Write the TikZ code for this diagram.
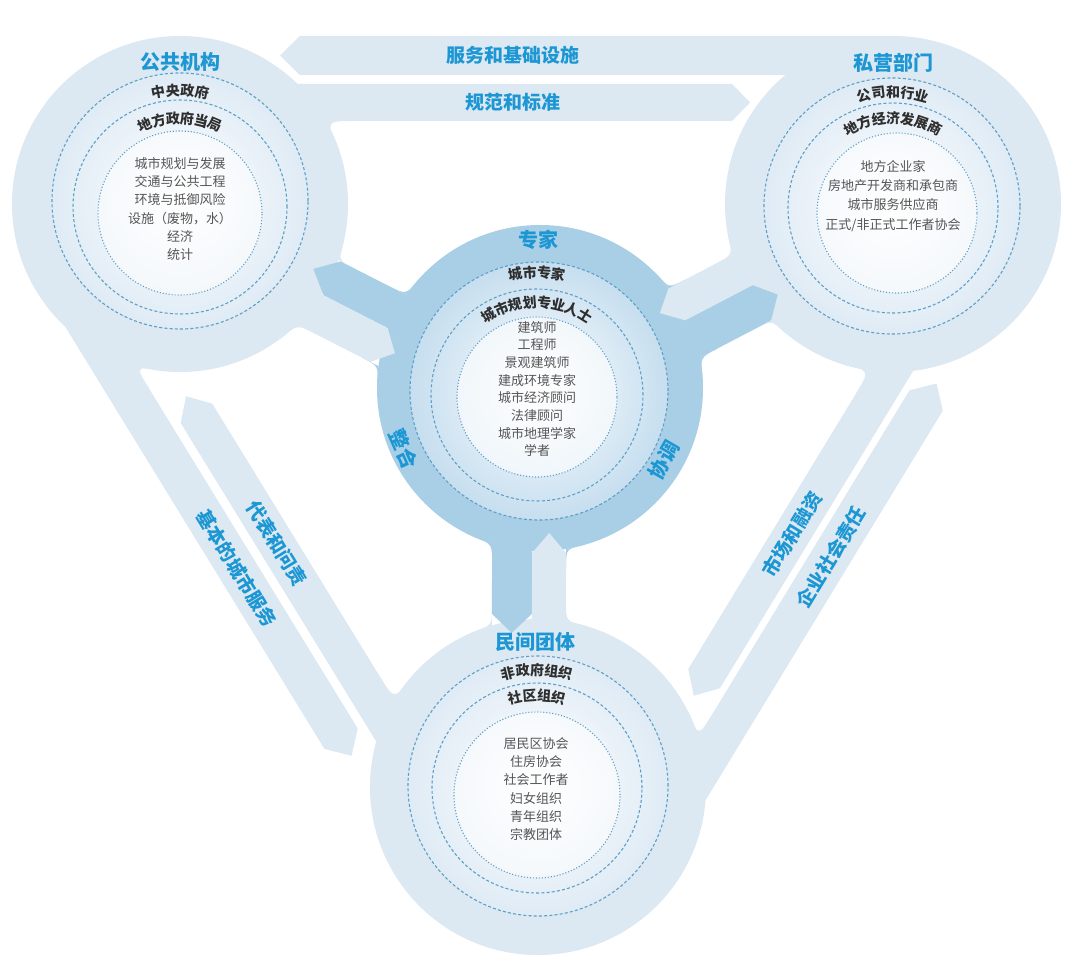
\documentclass[tikz,border=0pt]{standalone}
\usepackage{fontspec}
\setmainfont{Noto Sans CJK SC}
\definecolor{bandlight}{HTML}{DCE8F2}
\definecolor{ringmid}{HTML}{A9CFE6}
\definecolor{ringlight}{HTML}{DFEBF5}
\definecolor{ringpale}{HTML}{C6DEEF}
\definecolor{dashblue}{HTML}{5E9FC8}
\definecolor{titleblue}{HTML}{1C97D4}
\definecolor{darktext}{HTML}{2E2E2E}
\definecolor{listtext}{HTML}{555555}

\tikzset{
  bandarrow/.style={fill=bandlight},
  midarrow/.style={fill=ringmid},
  dashring/.style={draw=dashblue, line width=1.1pt, dash pattern=on 3pt off 2.2pt},
  dotring/.style={draw=dashblue, line width=1.1pt, dash pattern=on 1.1pt off 1.9pt},
  title/.style={text=titleblue, font=\bfseries\fontsize{20}{24}\selectfont},
  bandtext/.style={text=titleblue, font=\bfseries\fontsize{19}{23}\selectfont, transform shape},
  archlabel/.style={text=darktext, font=\bfseries\fontsize{14}{16}\selectfont, inner sep=0pt},
  itemlist/.style={text=listtext, align=center, font=\fontsize{13}{18.3}\selectfont},
}

% #1 centre, #2 radius, #3 angle step, #4 number of characters, #5 characters, #6 name prefix
\newcommand{\archtext}[6]{%
  \foreach \ch [count=\i] in {#5}{%
    \pgfmathsetmacro\ang{90+((#4+1)/2-\i)*#3}
    \node[archlabel, rotate=\ang-90] (#6\i) at ([shift={(\ang:#2)}]#1) {\ch};
  }}

% rounded join of a straight edge (y=#4) and a disc of radius #3 at the origin
% #1 frame, #2 colour, #5 size, #6 side (1: gap towards axis, -1: gap away)
\newcommand{\fillet}[6]{%
  \begin{scope}[#1]
    \pgfmathsetmacro\fx{sqrt(#3-#4)*sqrt(#3+#4)}
    \pgfmathsetmacro\fa{atan2(#4,\fx)-#6*#5/#3*180/pi}
    \fill[#2] (\fx+#5,#4) -- (\fx,#4) -- (\fa:#3) .. controls (\fx,#4) .. (\fx+#5,#4);
  \end{scope}}

\begin{document}
\begin{tikzpicture}[x=1pt, y=1pt]
  \useasboundingbox (0,0) rectangle (1080,-976);
  \fill[white] (0,0) rectangle (1080,-976);

  % centres of the four groups
  \coordinate (tl) at (180,-204);
  \coordinate (tr) at (893,-204);
  \coordinate (bt) at (538,-787);
  \coordinate (ex) at (540,-388);

  % light frame: three discs and the arrows between them
  \fill[bandlight] (tl) circle (168) (tr) circle (168) (bt) circle (168);

  \begin{scope}[shift={(tl)}]
    \fill[bandarrow] (713,168) -- (120,168) -- (100,148.5) -- (120,129) -- (713,129) -- cycle;
    \fill[bandarrow] (0,120) -- (552,120) -- (570,101.5) -- (552,83) -- (0,83) -- cycle;
    \node[bandtext] (infra) at (333,148.5) {服务和基础设施};
    \node[bandtext] (norms) at (333,101.5) {规范和标准};
  \end{scope}

  \begin{scope}[shift={(tl)}, rotate=-58.45]
    \fill[bandarrow] (0,-162) -- (540,-162) -- (560,-142.5) -- (540,-123) -- (0,-123) -- cycle;
    \fill[bandarrow] (684.1,-114) -- (187,-114) -- (167,-95.5) -- (187,-77) -- (684.1,-77) -- cycle;
    \node[bandtext] (basic) at (340,-142.5) {基本的城市服务};
    \node[bandtext] (account) at (340,-95.5) {代表和问责};
  \end{scope}

  \begin{scope}[shift={(bt)}, rotate=58.66]
    \fill[bandarrow] (0,-150) -- (532,-150) -- (552,-130.5) -- (532,-111) -- (0,-111) -- cycle;
    \fill[bandarrow] (682.6,-104) -- (179,-104) -- (159,-85.5) -- (179,-67) -- (682.6,-67) -- cycle;
    \node[bandtext] (csr) at (349,-130.5) {企业社会责任};
    \node[bandtext] (market) at (348,-85.5) {市场和融资};
  \end{scope}

  % rounded joins of the frame
  \fillet{shift={(tl)}}{bandlight}{168}{83}{28}{1}
  \fillet{shift={(tl)}, rotate=-58.45, yscale=-1}{bandlight}{168}{123}{28}{1}
  \fillet{shift={(bt)}, rotate=121.55}{bandlight}{168}{77}{28}{1}
  \fillet{shift={(bt)}, rotate=58.66, yscale=-1}{bandlight}{168}{111}{28}{1}
  \fillet{shift={(tr)}, rotate=238.66}{bandlight}{168}{67}{28}{1}

  % expert ring and its three spokes
  \fill[ringmid] (ex) circle (163);

  \begin{scope}[shift={(ex)}, rotate=152.93]
    \fill[midarrow] (100,16) -- (235,16) -- (256,-3) -- (235,-22) -- (100,-22) -- cycle;
    \fill[bandarrow] (300,54) -- (163,54) -- (145,35) -- (163,16) -- (300,16) -- cycle;
  \end{scope}
  \begin{scope}[shift={(ex)}, rotate=27.53]
    \fill[midarrow] (100,-7) -- (236,-7) -- (254,-27) -- (236,-47) -- (100,-47) -- cycle;
    \fill[bandarrow] (300,29) -- (160,29) -- (141,11) -- (160,-7) -- (300,-7) -- cycle;
  \end{scope}
  \begin{scope}[shift={(ex)}, rotate=-90.3]
    \fill[midarrow] (100,-7) -- (226,-7) -- (245,-27) -- (226,-47) -- (100,-47) -- cycle;
    \fill[bandarrow] (300,27) -- (165,27) -- (145,10) -- (165,-7) -- (300,-7) -- cycle;
  \end{scope}

  % rounded joins of the spokes
  \fillet{shift={(ex)}, rotate=152.93, yscale=-1}{ringmid}{163}{22}{20}{-1}
  \fillet{shift={(ex)}, rotate=27.53, yscale=-1}{ringmid}{163}{47}{20}{-1}
  \fillet{shift={(ex)}, rotate=-90.3, yscale=-1}{ringmid}{163}{47}{20}{-1}
  \fillet{shift={(ex)}, rotate=152.93}{ringmid}{163}{54}{18}{-1}
  \fillet{shift={(ex)}, rotate=27.53}{ringmid}{163}{29}{18}{-1}
  \fillet{shift={(ex)}, rotate=-90.3}{ringmid}{163}{27}{18}{-1}
  \fillet{shift={(tr)}, rotate=207.53, yscale=-1}{bandlight}{168}{29}{20}{-1}
  \fillet{shift={(tl)}, rotate=332.93, yscale=-1}{bandlight}{168}{54}{20}{-1}
  \fillet{shift={(bt)}, rotate=89.7, yscale=-1}{bandlight}{168}{27}{20}{-1}
  \fillet{shift={(tl)}, rotate=332.93}{bandlight}{168}{22}{18}{-1}
  \fillet{shift={(tr)}, rotate=207.53}{bandlight}{168}{47}{18}{-1}
  \fillet{shift={(bt)}, rotate=89.7}{bandlight}{168}{47}{18}{-1}

  % dashed rings
  \shade[inner color=white, outer color=ringlight] (180,-201) circle (128);
  \draw[dashring] (180,-201) circle (128);
  \draw[dashring] (180,-207) circle (107);
  \fill[white, opacity=.55] (180,-213) circle (82);
  \draw[dotring] (180,-213) circle (82);

  \shade[inner color=white, outer color=ringlight] (892,-206) circle (128);
  \draw[dashring] (892,-206) circle (128);
  \draw[dashring] (893,-208) circle (105);
  \fill[white, opacity=.55] (897,-213) circle (80);
  \draw[dotring] (897,-213) circle (80);

  \shade[inner color=white, outer color=ringlight] (538,-786) circle (130);
  \draw[dashring] (538,-786) circle (130);
  \draw[dashring] (537,-788) circle (105);
  \fill[white, opacity=.55] (537,-795) circle (83);
  \draw[dotring] (537,-795) circle (83);

  \shade[inner color=white, outer color=ringpale] (539,-391) circle (129);
  \draw[dashring] (539,-391) circle (129);
  \draw[dashring] (537,-395) circle (106);
  \fill[white, opacity=.6] (537,-397) circle (80);
  \draw[dotring] (537,-397) circle (80);

  % titles
  \node[title] (pubt) at (180,-62) {公共机构};
  \node[title] (privt) at (893,-63) {私营部门};
  \node[title] (civt) at (535,-642) {民间团体};
  \node[title] (expt) at (538,-240) {专家};
  \node[title, rotate=-66] (integ) at (404,-449) {整合};
  \node[title, rotate=60] (coord) at (664,-460) {协调};

  % arched sub-titles
  \coordinate (tlr) at (180,-207);
  \coordinate (trr) at (893,-208);
  \coordinate (btr) at (537,-790);
  \coordinate (exr) at (537,-393);
  \archtext{tlr}{117}{7.2}{4}{中,央,政,府}{tla}
  \archtext{tlr}{89}{9.2}{6}{地,方,政,府,当,局}{tlb}
  \archtext{trr}{116}{7.2}{5}{公,司,和,行,业}{tra}
  \archtext{trr}{90}{9.2}{7}{地,方,经,济,发,展,商}{trb}
  \archtext{btr}{120}{6.9}{5}{非,政,府,组,织}{bta}
  \archtext{btr}{95}{8.7}{4}{社,区,组,织}{btb}
  \archtext{exr}{121}{6.9}{4}{城,市,专,家}{exa}
  \archtext{exr}{91}{9.1}{8}{城,市,规,划,专,业,人,士}{exb}

  % member lists
  \node[itemlist] (publist) at (180,-209) {城市规划与发展\\交通与公共工程\\环境与抵御风险\\设施（废物，水）\\经济\\统计};
  \node[itemlist, font=\fontsize{13}{19.2}\selectfont] (privlist) at (893,-196) {地方企业家\\房地产开发商和承包商\\城市服务供应商\\正式/非正式工作者协会};
  \node[itemlist] (civlist) at (536,-789) {居民区协会\\住房协会\\社会工作者\\妇女组织\\青年组织\\宗教团体};
  \node[itemlist, font=\fontsize{13}{17.7}\selectfont] (explist) at (537,-389) {建筑师\\工程师\\景观建筑师\\建成环境专家\\城市经济顾问\\法律顾问\\城市地理学家\\学者};
\end{tikzpicture}
\end{document}
